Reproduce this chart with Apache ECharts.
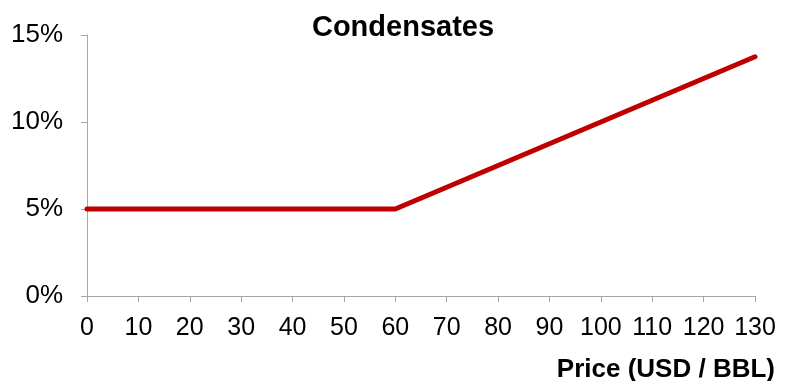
<!DOCTYPE html>
<html>
<head>
<meta charset="utf-8">
<script src="https://cdn.jsdelivr.net/npm/echarts@6/dist/echarts.min.js"></script>
<style>html,body{margin:0;padding:0;background:#fff;}#c{width:786px;height:381px;}</style>
</head>
<body>
<div id="c"></div>
<script>
const chartTitle = 'Condensates';
const xAxisTitle = 'Price (USD / BBL)';
const prices = [0, 10, 20, 30, 40, 50, 60, 70, 80, 90, 100, 110, 120, 130];
const rates = [5, 5, 5, 5, 5, 5, 5, 6.25, 7.5, 8.75, 10, 11.25, 12.5, 13.75];

const chart = echarts.init(document.getElementById('c'), null, {renderer: 'canvas'});
const font = '"Liberation Sans", Arial, sans-serif';
chart.setOption({
  animation: false,
  backgroundColor: '#ffffff',
  title: [
    {text: chartTitle, left: 398, top: 8, textAlign: 'center',
     textStyle: {fontFamily: font, fontSize: 29, fontWeight: 'bold', color: '#000'}},
    {text: xAxisTitle, right: 6, top: 352,
     textStyle: {fontFamily: font, fontSize: 26, fontWeight: 'bold', color: '#000'}}
  ],
  grid: {left: 87, right: 31, top: 35, bottom: 85, containLabel: false},
  xAxis: {
    type: 'value', min: 0, max: 130, interval: 10,
    axisLine: {show: true, lineStyle: {color: '#a6a6a6', width: 1}},
    axisTick: {show: true, length: 6, lineStyle: {color: '#a6a6a6'}},
    splitLine: {show: false},
    axisLabel: {fontFamily: font, fontSize: 25, color: '#000', margin: 20}
  },
  yAxis: {
    type: 'value', min: 0, max: 15, interval: 5,
    axisLine: {show: true, lineStyle: {color: '#a6a6a6', width: 1}},
    axisTick: {show: true, length: 6, lineStyle: {color: '#a6a6a6'}},
    splitLine: {show: false},
    axisLabel: {fontFamily: font, fontSize: 26, color: '#000', margin: 24, formatter: '{value}%'}
  },
  series: [{
    type: 'line',
    data: prices.map((p, i) => [p, rates[i]]),
    showSymbol: false,
    lineStyle: {color: '#c00000', width: 5, cap: 'round', join: 'round'},
    itemStyle: {color: '#c00000'}
  }]
});
</script>
</body>
</html>
